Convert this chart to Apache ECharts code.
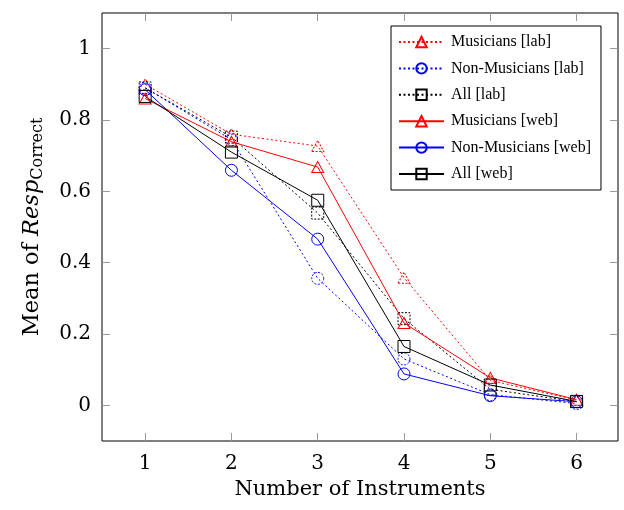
<!DOCTYPE html>
<html><head><meta charset="utf-8">
<script src="https://cdn.jsdelivr.net/npm/echarts@6/dist/echarts.min.js"></script>
<style>html,body{margin:0;padding:0;background:#fff}#c{width:624px;height:510px}</style>
</head><body><div id="c"></div>
<script>
const xValues = [1, 2, 3, 4, 5, 6];
const musiciansLab = [0.90, 0.76, 0.727, 0.358, 0.07, 0.015];
const nonMusiciansLab = [0.89, 0.745, 0.356, 0.13, 0.03, 0.005];
const allLab = [0.89, 0.752, 0.539, 0.243, 0.045, 0.01];
const musiciansWeb = [0.86, 0.739, 0.668, 0.231, 0.077, 0.016];
const nonMusiciansWeb = [0.885, 0.659, 0.466, 0.088, 0.027, 0.01];
const allWeb = [0.866, 0.71, 0.575, 0.165, 0.057, 0.011];
const yTicks = [0, 0.2, 0.4, 0.6, 0.8, 1];
const seriesNames = ['Musicians [lab]', 'Non-Musicians [lab]', 'All [lab]', 'Musicians [web]', 'Non-Musicians [web]', 'All [web]'];

const FONT = '"Liberation Serif", "DejaVu Serif", serif';
const AFONT = '"DejaVu Serif", "Liberation Serif", serif';
const pairs = arr => xValues.map((x, i) => [x, arr[i]]);
function mk(name, data, color, symbol, size, dotted) {
  return {
    name, type: 'line', data: pairs(data), symbol, symbolSize: size,
    showSymbol: true, xAxisIndex: 0, yAxisIndex: 0,
    lineStyle: { color, width: 1, type: dotted ? [2, 2.5] : 'solid' },
    itemStyle: { color: 'rgba(0,0,0,0)', borderColor: color, borderWidth: 1, borderType: dotted ? [2, 1.5] : 'solid' },
    emphasis: { disabled: true }, animation: false, z: dotted ? 2 : 3
  };
}
const tri = 'path://M0,10 L5.5,0 L11,10 Z';
function tickAxis(pos, min, max, vals, inside, len) {
  return {
    type: 'value', min, max, position: pos, z: 5,
    axisLine: { show: false, onZero: false }, splitLine: { show: false },
    axisTick: { show: true, inside, length: len, customValues: vals, lineStyle: { color: '#999', width: 1 } },
    axisLabel: { show: false }
  };
}
const chart = echarts.init(document.getElementById('c'));
chart.setOption({
  animation: false,
  grid: { left: 102, right: 6, top: 13, bottom: 69, show: true, borderColor: '#000', borderWidth: 1, backgroundColor: 'transparent', z: 0 },
  legend: {
    orient: 'vertical', left: 391, top: 26, z: 10,
    padding: [8, 10, 8, 7], itemGap: 10.4, itemWidth: 45, itemHeight: 13,
    borderColor: '#000', borderWidth: 1, backgroundColor: '#fff',
    textStyle: { fontFamily: FONT, fontSize: 16, color: '#000', padding: [0, 0, 0, 2] },
    data: seriesNames
  },
  xAxis: [{
    type: 'value', min: 0.5, max: 6.48, position: 'bottom', z: 5,
    name: 'Number of Instruments', nameLocation: 'middle', nameGap: 37,
    nameTextStyle: { fontFamily: AFONT, fontSize: 21, color: '#000' },
    axisLine: { show: false, onZero: false }, splitLine: { show: false },
    axisTick: { show: false },
    axisLabel: { customValues: xValues, fontFamily: AFONT, fontSize: 20, color: '#000', margin: 13 }
  },
    tickAxis('top', 0.5, 6.48, xValues, true, 8),
    tickAxis('bottom', 0.5, 6.48, xValues, false, -8)
  ],
  yAxis: [{
    type: 'value', min: -0.1, max: 1.1, position: 'left', z: 5,
    name: '{n|Mean of }{i|Resp}{s|Correct}', nameLocation: 'middle', nameGap: 56, nameRotate: 90,
    nameTextStyle: { fontFamily: AFONT, fontSize: 22.5, color: '#000',
      rich: {
        n: { fontFamily: AFONT, fontSize: 22.5, color: '#000' },
        i: { fontFamily: AFONT, fontSize: 22.5, color: '#000', fontStyle: 'italic' },
        s: { fontFamily: AFONT, fontSize: 16, color: '#000', padding: [12, 0, 0, 0] }
      } },
    axisLine: { show: false, onZero: false }, splitLine: { show: false },
    axisTick: { show: false },
    axisLabel: { customValues: yTicks, fontFamily: AFONT, fontSize: 20, color: '#000', margin: 11 }
  },
    tickAxis('right', -0.1, 1.1, yTicks, true, 8),
    tickAxis('left', -0.1, 1.1, yTicks, false, -8)
  ],
  series: [
    mk(seriesNames[0], musiciansLab, '#ff0000', tri, [12, 11], true),
    mk(seriesNames[1], nonMusiciansLab, '#0000ff', 'circle', 12, true),
    mk(seriesNames[2], allLab, '#000000', 'rect', 12, true),
    mk(seriesNames[3], musiciansWeb, '#ff0000', tri, [12, 11], false),
    mk(seriesNames[4], nonMusiciansWeb, '#0000ff', 'circle', 12, false),
    mk(seriesNames[5], allWeb, '#000000', 'rect', 12, false)
  ]
});
</script></body></html>
